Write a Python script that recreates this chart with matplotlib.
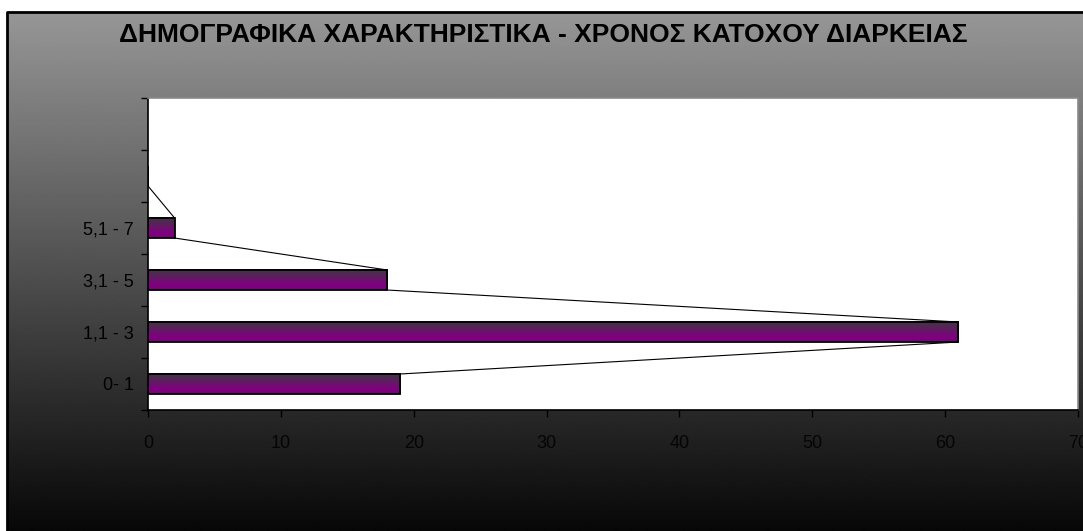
import numpy as np
import matplotlib
matplotlib.use('Agg')
import matplotlib.pyplot as plt
from matplotlib.colors import LinearSegmentedColormap

plt.rcParams['font.family'] = ['Liberation Sans', 'DejaVu Sans']

# data
categories = ['0- 1', '1,1 - 3', '3,1 - 5', '5,1 - 7', '', '']
values = [19, 61, 18, 2, 0, np.nan]
x_ticks = [0, 10, 20, 30, 40, 50, 60, 70]
title = 'ΔΗΜΟΓΡΑΦΙΚΑ ΧΑΡΑΚΤΗΡΙΣΤΙΚΑ - ΧΡΟΝΟΣ ΚΑΤΟΧΟΥ ΔΙΑΡΚΕΙΑΣ'

W, H = 1083, 531
fig = plt.figure(figsize=(W / 100, H / 100), dpi=100)
fig.patch.set_facecolor('white')

# chart area: grey -> black gradient with black top/left border
bg = fig.add_axes([0, 0, 1, 1], zorder=0)
bg.set_xlim(0, W)
bg.set_ylim(H, 0)
bg.axis('off')
grad = np.linspace(0.59, 0.03, 256).reshape(-1, 1)
bg.imshow(grad, cmap='gray', vmin=0, vmax=1, aspect='auto',
          extent=[7, W, H, 12], interpolation='bilinear')
bg.plot([7, 7, W], [H, 12, 12], color='black', lw=2, solid_capstyle='butt')

fig.text(543 / W, 1 - 35 / H, title, ha='center', va='center',
         fontsize=19, fontweight='bold', color='black')

ax = fig.add_axes([148 / W, (H - 410) / H, 930 / W, 312 / H], zorder=1)
ax.set_facecolor('white')

pos = np.arange(len(categories))
h = 0.385
bar_cmap = LinearSegmentedColormap.from_list(
    'bar', [(0.0, '#3c3a3e'), (0.75, '#800080'), (1.0, '#7a007a')])
bar_grad = np.linspace(0, 1, 64).reshape(-1, 1)

ok = ~np.isnan(values)
bars = ax.barh(pos[ok], np.array(values)[ok], height=h, facecolor='none',
               edgecolor='black', linewidth=1.3, zorder=3)
for b in bars:
    x0, y0, bw, bh = b.get_x(), b.get_y(), b.get_width(), b.get_height()
    if bw > 0:
        ax.imshow(bar_grad, cmap=bar_cmap, aspect='auto', zorder=2,
                  extent=[x0, x0 + bw, y0, y0 + bh], origin='upper',
                  interpolation='bilinear')

# series lines joining bar ends
for i in range(len(values) - 1):
    if np.isnan(values[i]) or np.isnan(values[i + 1]):
        continue
    ax.plot([values[i], values[i + 1]], [pos[i] + h / 2, pos[i + 1] - h / 2],
            color='black', lw=0.8, zorder=2.5)

ax.set_xlim(0, 70)
ax.set_ylim(-0.5, len(categories) - 0.5)
ax.set_xticks(x_ticks)
ax.set_xticklabels([str(t) for t in x_ticks])
ax.set_yticks(np.arange(-0.5, len(categories)), labels=[''] * (len(categories) + 1))
ax.set_yticks(pos, labels=categories, minor=True)
ax.tick_params(axis='y', which='major', length=5, width=1, direction='out')
ax.tick_params(axis='y', which='minor', length=0, pad=10, labelsize=13)
ax.tick_params(axis='x', length=5, width=1, direction='out', pad=13,
               labelsize=13, labelcolor='#050505')

ax.spines['left'].set_color('black')
ax.spines['bottom'].set_color('black')
ax.spines['top'].set_color('#8a8a8a')
ax.spines['right'].set_color('#8a8a8a')
for s in ax.spines.values():
    s.set_linewidth(1.2)

fig.savefig('out.png', dpi=100)
